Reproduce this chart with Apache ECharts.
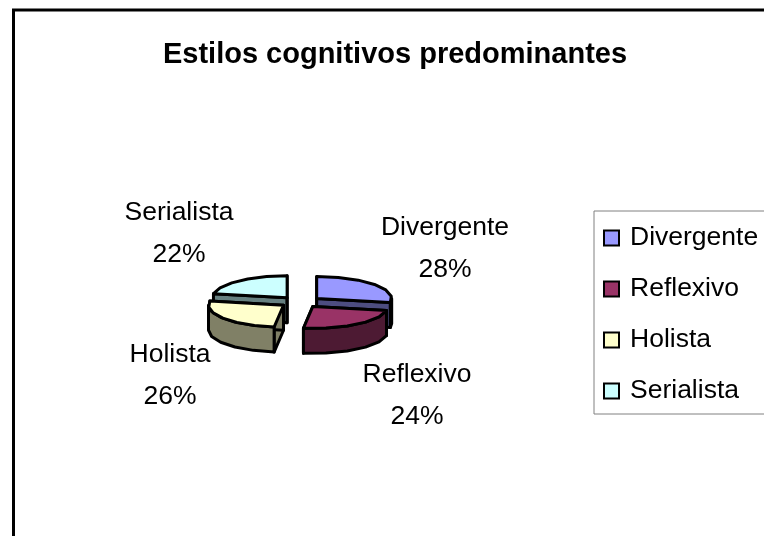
<!DOCTYPE html>
<html><head><meta charset="utf-8">
<style>html,body{margin:0;padding:0;background:#fff}#c{width:764px;height:536px}</style>
<script src="https://cdn.jsdelivr.net/npm/echarts@6/dist/echarts.min.js"></script>
</head><body><div id="c"></div>
<script>
const categories = ['Divergente','Reflexivo','Holista','Serialista'];
const shares = [28,24,26,22];
const titleText = 'Estilos cognitivos predominantes';

const topColors = ['#9999FF','#993366','#FFFFCC','#CCFFFF'];
const sideColors = ['#4D4D80','#4D1A33','#808066','#668080'];
const labelAnchors = [[445,249],[417,396],[170,376],[179,234]];
const drawOrder = [2,4,3,1];
const FONT = '"Liberation Sans", Arial, sans-serif';
const PIE = {cx:300.5, cy:302, rx:75, ry:22, depth:25, ex:21, ey:5.5, step:17};

const total = shares.reduce((a,b)=>a+b,0);
const starts = []; let acc = 0;
shares.forEach(v=>{starts.push(acc/total*360); acc+=v;});
const rad = d=>d*Math.PI/180;

function rim(ax,ay,a,dy){
  return [ax+PIE.rx*Math.sin(rad(a)), ay-PIE.ry*Math.cos(rad(a))+(dy||0)];
}
function arc(ax,ay,a0,a1,dy){
  const pts=[]; const n=Math.max(1,Math.round((a1-a0)/PIE.step));
  for(let k=0;k<=n;k++) pts.push(rim(ax,ay,a0+(a1-a0)*k/n,dy));
  return pts;
}
function poly(points,fill,z2){
  return {type:'polygon',z2:z2,shape:{points:points},
    style:{fill:fill,stroke:'#000',lineWidth:3,lineJoin:'round'}};
}
function renderSlice(params,api){
  const i=params.seriesIndex, v=api.value(0);
  const a0=starts[i], a1=a0+v/total*360, mid=(a0+a1)/2;
  const ax=PIE.cx+PIE.ex*Math.sin(rad(mid)), ay=PIE.cy-PIE.ey*Math.cos(rad(mid));
  const side=sideColors[i], d=PIE.depth, kids=[];
  [a0,a1].forEach(a=>{
    const p=rim(ax,ay,a);
    kids.push(poly([[ax,ay],p,[p[0],p[1]+d],[ax,ay+d]],side,1));
  });
  const w0=Math.max(a0,90), w1=Math.min(a1,270);
  if(w1>w0){
    kids.push(poly(arc(ax,ay,w0,w1).concat(arc(ax,ay,w0,w1,d).reverse()),side,2));
  }
  kids.push(poly([[ax,ay]].concat(arc(ax,ay,a0,a1)),topColors[i],3));
  const L=labelAnchors[i];
  kids.push({type:'text',z2:5,style:{text:categories[i]+'\n'+Math.round(v/total*100)+'%',
    x:L[0],y:L[1],align:'center',verticalAlign:'middle',fontSize:26.5,lineHeight:42,
    fontFamily:FONT,fill:'#000'}});
  return {type:'group',children:kids};
}

const chart=echarts.init(document.getElementById('c'),null,{renderer:'canvas'});
chart.setOption({
  animation:false,
  backgroundColor:'#fff',
  title:{text:titleText,left:390,top:50,textAlign:'center',textVerticalAlign:'middle',
    textStyle:{fontFamily:FONT,fontSize:29,fontWeight:'bold',color:'#000'}},
  legend:{
    left:594,top:211,orient:'vertical',selectedMode:false,
    padding:[12,60,8,9],itemGap:21,itemWidth:15,itemHeight:15,
    backgroundColor:'#fff',borderColor:'#808080',borderWidth:1,borderRadius:0,
    textStyle:{fontFamily:FONT,fontSize:26.5,color:'#000',lineHeight:30,height:30,padding:[0,0,0,6]},
    data:categories.map((n,i)=>({name:n,icon:'rect',
      itemStyle:{color:topColors[i],borderColor:'#000',borderWidth:2}}))
  },
  graphic:[{type:'rect',silent:true,z:-1,shape:{x:13.5,y:10,width:900,height:700},
    style:{fill:'none',stroke:'#000',lineWidth:3}}],
  series:categories.map((n,i)=>({
    type:'custom',name:n,coordinateSystem:'none',z:drawOrder[i],silent:true,
    renderItem:renderSlice,data:[[shares[i]]],
    itemStyle:{color:topColors[i]}
  }))
});
</script></body></html>
